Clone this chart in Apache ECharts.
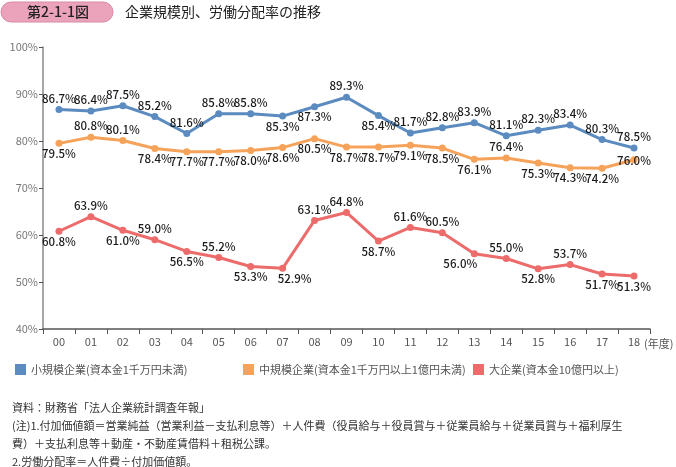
<!DOCTYPE html>
<html><head><meta charset="utf-8">
<script src="https://cdn.jsdelivr.net/npm/echarts@6/dist/echarts.min.js"></script>
<style>html,body{margin:0;padding:0;background:#fff}#c{width:676px;height:467px}</style>
</head><body><div id="c"></div>
<script>
const years = ['00','01','02','03','04','05','06','07','08','09','10','11','12','13','14','15','16','17','18'];
const small = [86.7,86.4,87.5,85.2,81.6,85.8,85.8,85.3,87.3,89.3,85.4,81.7,82.8,83.9,81.1,82.3,83.4,80.3,78.5];
const medium = [79.5,80.8,80.1,78.4,77.7,77.7,78.0,78.6,80.5,78.7,78.7,79.1,78.5,76.1,76.4,75.3,74.3,74.2,76.0];
const large = [60.8,63.9,61.0,59.0,56.5,55.2,53.3,52.9,63.1,64.8,58.7,61.6,60.5,56.0,55.0,52.8,53.7,51.7,51.3];
const yTicks = [40,50,60,70,80,90,100];
const seriesNames = ['小規模企業(資本金1千万円未満)','中規模企業(資本金1千万円以上1億円未満)','大企業(資本金10億円以上)'];

// label placement: t = top, b = bottom, c = on point
const smallPos = 'tttttttbbtbtttttttt'.split('');
const mediumPos = 'bttbbbbbbbbbbbtbbbc'.split('');
const largePos = 'btbtbtbbttbttbtbtbb'.split('');
const largeDx = {7:12, 13:-14};

const colors = ['#5b8bbf','#f5a35a','#ec6b6b'];
const FONT = 'Noto Sans CJK JP';
function mk(vals, pos, dx){
  return vals.map((v,i)=>{
    const p = pos[i];
    const lab = {};
    if(p==='t'){lab.position='top';lab.distance=2;}
    else if(p==='b'){lab.position='bottom';lab.distance=1;}
    else {lab.position='top';lab.distance=-10;}
    if(dx && dx[i]) lab.offset=[dx[i],0];
    return {value:v, label:lab};
  });
}
function series(name, vals, pos, color, dx){
  return {name, type:'line', data:mk(vals,pos,dx), symbol:'circle', symbolSize:7,
    lineStyle:{width:3,color}, itemStyle:{color},
    label:{show:true, formatter:p=>p.value.toFixed(1)+'%', color:'#1a1a1a', fontSize:11.5, fontWeight:500, fontFamily:FONT},
    emphasis:{disabled:true}, animation:false};
}
function legend(i, left){
  return {show:true, left:left, top:359, itemWidth:11, itemHeight:11, icon:'rect',
    textStyle:{color:'#555',fontSize:11,fontFamily:FONT}, data:[seriesNames[i]]};
}
const chart = echarts.init(document.getElementById('c'));
chart.setOption({
  animation:false,
  grid:{left:43,right:26,top:47,bottom:138,containLabel:false},
  xAxis:{type:'category', data:years, boundaryGap:true,
    axisLine:{lineStyle:{color:'#555',width:1.5}},
    axisTick:{show:true,length:5,lineStyle:{color:'#555'}},
    axisLabel:{color:'#555',fontSize:11,margin:7,fontFamily:FONT}},
  yAxis:{type:'value', min:yTicks[0], max:yTicks[yTicks.length-1], interval:10,
    axisLine:{show:true,lineStyle:{color:'#888',width:1.5}},
    axisTick:{show:true,length:4,lineStyle:{color:'#555'}},
    splitLine:{show:false},
    axisLabel:{color:'#777',fontSize:11,margin:5,formatter:'{value}%',fontFamily:FONT}},
  legend:[legend(0,10), legend(1,238), legend(2,468)],
  series:[
    series(seriesNames[0], small, smallPos, colors[0]),
    series(seriesNames[1], medium, mediumPos, colors[1]),
    series(seriesNames[2], large, largePos, colors[2], largeDx)
  ],
  graphic:[
    {type:'rect', shape:{x:1,y:2,width:112,height:20,r:10}, style:{fill:'#eaa3ba',stroke:'#d98aa3',lineWidth:1}},
    {type:'text', x:58, y:12, style:{text:'第2-1-1図', fill:'#222', font:'500 14px "Noto Sans CJK JP"', textAlign:'center', textVerticalAlign:'middle'}},
    {type:'text', x:125, y:12, style:{text:'企業規模別、労働分配率の推移', fill:'#222', font:'14px "Noto Sans CJK JP"', textVerticalAlign:'middle'}},
    {type:'text', x:644, y:344, style:{text:'(年度)', fill:'#555', font:'11px "Noto Sans CJK JP"', textVerticalAlign:'middle'}},
    {type:'text', x:12, y:408, style:{text:'資料：財務省「法人企業統計調査年報」', fill:'#333', font:'11px "Noto Sans CJK JP"', textVerticalAlign:'middle'}},
    {type:'text', x:12, y:426, style:{text:'(注)1.付加価値額＝営業純益（営業利益－支払利息等）＋人件費（役員給与＋役員賞与＋従業員給与＋従業員賞与＋福利厚生', fill:'#333', font:'11px "Noto Sans CJK JP"', textVerticalAlign:'middle'}},
    {type:'text', x:12, y:444, style:{text:'費）＋支払利息等＋動産・不動産賃借料＋租税公課。', fill:'#333', font:'11px "Noto Sans CJK JP"', textVerticalAlign:'middle'}},
    {type:'text', x:12, y:462, style:{text:'2.労働分配率＝人件費÷付加価値額。', fill:'#333', font:'11px "Noto Sans CJK JP"', textVerticalAlign:'middle'}}
  ]
});
</script></body></html>
